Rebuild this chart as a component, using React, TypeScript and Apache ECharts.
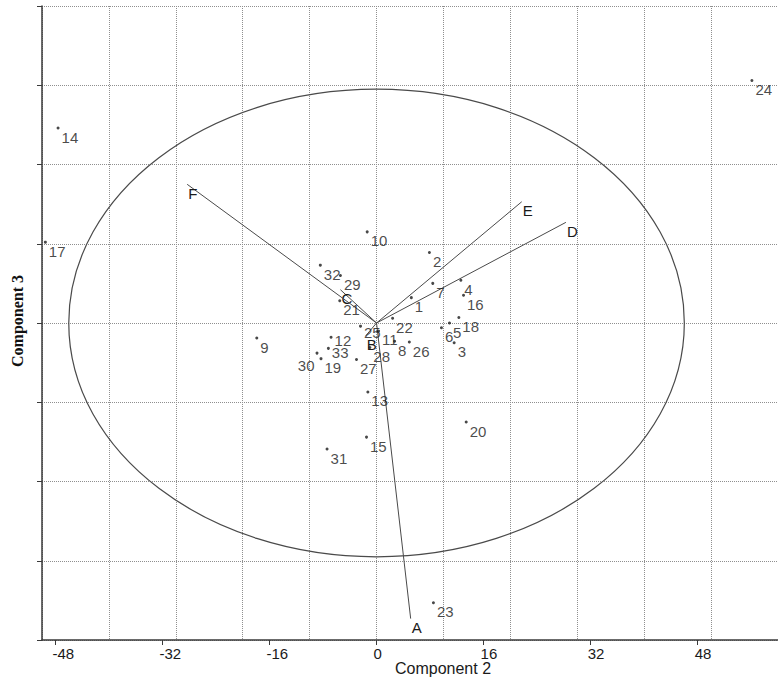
import React, { useEffect, useRef } from 'react';
import * as echarts from 'echarts';

// ---- data ----
const pointNames = ['1','2','3','4','5','6','7','8','9','10','11','12','13','14','15','16','17','18','19','20','21','22','23','24','25','26','27','28','29','30','31','32','33'];
const pointX = [5.2, 7.9, 11.6, 12.6, 10.9, 9.7, 8.4, 2.7, -17.9, -1.4, 0.3, -6.8, -1.3, -47.6, -1.5, 13.0, -49.5, 12.3, -8.3, 13.4, -5.5, 2.4, 8.5, 56.1, -2.4, 4.9, -3.0, -1.0, -5.4, -8.9, -7.4, -8.4, -7.2];
const pointY = [3.2, 8.9, -2.5, 5.4, 0.0, -0.6, 5.0, -2.3, -1.9, 11.5, -1.0, -1.8, -8.7, 24.6, -14.4, 3.5, 10.2, 0.7, -4.5, -12.5, 2.8, 0.6, -35.3, 30.6, -0.4, -2.4, -4.6, -3.1, 6.0, -3.8, -15.9, 7.3, -3.2];

const vectorNames = ['A', 'B', 'C', 'D', 'E', 'F'];
const vectorX = [5.1, -1.6, -5.4, 28.3, 21.7, -28.3];
const vectorY = [-37.3, -1.6, 4.2, 12.7, 15.3, 17.5];

const xTickLabels = [-48, -32, -16, 0, 16, 32, 48];
const ellipseRadiusX = 46;
const ellipseRadiusY = 29.5;

// ---- label tweaks (style only) ----
const labelTweaks: Record<string, any> = {
  '30': { position: 'left', distance: 1, offset: [0, 12] },
  '12': { offset: [0, 3] },
  '33': { offset: [0, 4] },
  '25': { offset: [0, 6] },
};

const SANS = '"Liberation Sans", Arial, Helvetica, sans-serif';
const SERIF = '"Liberation Serif", "Times New Roman", serif';

export default function App() {
  const ref = useRef<HTMLDivElement>(null);
  useEffect(() => {
    if (!ref.current) return;
    const chart = echarts.init(ref.current, null, { renderer: 'svg' });
    const scatterData = pointNames.map((n, i) => {
      const d: any = { name: n, value: [pointX[i], pointY[i]] };
      if (labelTweaks[n]) d.label = labelTweaks[n];
      return d;
    });
    const vectorData = vectorNames.map((n, i) => [vectorX[i], vectorY[i]]);
    const option: any = {
      animation: false,
      backgroundColor: '#ffffff',
      grid: { left: 42, right: 0, top: 6, bottom: 37, containLabel: false },
      xAxis: [
        {
          type: 'value', min: -50, max: 60, interval: 10, position: 'bottom',
          axisLine: { show: false }, axisTick: { show: false }, axisLabel: { show: false },
          splitLine: { show: true, lineStyle: { type: 'dotted', color: '#8f8f8f', width: 1 } },
        },
        {
          type: 'value', min: -50, max: 60, position: 'bottom',
          axisLine: { show: true, onZero: false, lineStyle: { color: '#3a3a3a', width: 1.5 } },
          axisTick: { show: true, customValues: xTickLabels, length: 5, lineStyle: { color: '#3a3a3a' } },
          axisLabel: {
            show: true, customValues: xTickLabels, align: 'left', padding: [0, 0, 0, -3],
            margin: 6, fontSize: 15, color: '#1a1a1a', fontFamily: SANS,
          },
          splitLine: { show: false },
        },
      ],
      yAxis: {
        type: 'value', min: -40, max: 40, interval: 10,
        axisLine: { show: true, onZero: false, lineStyle: { color: '#3a3a3a', width: 1.5 } },
        axisTick: { show: true, length: 5, lineStyle: { color: '#3a3a3a' } },
        axisLabel: { show: false },
        splitLine: { show: true, lineStyle: { type: 'dotted', color: '#8f8f8f', width: 1 } },
      },
      graphic: [
        {
          type: 'text', x: 443, y: 668,
          style: { text: 'Component 2', fontSize: 16, fontFamily: SANS, fill: '#1a1a1a', align: 'center', verticalAlign: 'middle' },
        },
        {
          type: 'text', x: 17, y: 321, rotation: Math.PI / 2,
          style: { text: 'Component 3', fontSize: 16, fontWeight: 'bold', fontFamily: SERIF, fill: '#111', align: 'center', verticalAlign: 'middle' },
        },
      ],
      series: [
        {
          type: 'custom',
          xAxisIndex: 0,
          silent: true,
          clip: false,
          data: [[0, 0]],
          renderItem: (params: any, api: any) => {
            const c = api.coord([api.value(0), api.value(1)]);
            const s = api.size([ellipseRadiusX, ellipseRadiusY]);
            return {
              type: 'ellipse',
              shape: { cx: c[0], cy: c[1], rx: s[0], ry: s[1] },
              style: { fill: 'none', stroke: '#4a4a4a', lineWidth: 1.2 },
            };
          },
        },
        {
          type: 'custom',
          xAxisIndex: 0,
          silent: true,
          clip: false,
          data: vectorData,
          renderItem: (params: any, api: any) => {
            const o = api.coord([0, 0]);
            const e = api.coord([api.value(0), api.value(1)]);
            return {
              type: 'group',
              children: [
                { type: 'line', shape: { x1: o[0], y1: o[1], x2: e[0], y2: e[1] }, style: { stroke: '#4a4a4a', lineWidth: 1 } },
                {
                  type: 'text', x: e[0] + 1, y: e[1] + 9,
                  style: { text: vectorNames[params.dataIndex], fontSize: 15, fontFamily: SANS, fill: '#1a1a1a', align: 'left', verticalAlign: 'middle' },
                },
              ],
            };
          },
        },
        {
          type: 'scatter',
          xAxisIndex: 0,
          symbol: 'circle',
          symbolSize: 3,
          itemStyle: { color: '#1a1a1a' },
          label: {
            show: true, formatter: '{b}', position: 'right', distance: 2, offset: [0, 9],
            fontSize: 15, fontFamily: SANS, color: '#1a1a1a',
          },
          data: scatterData,
        },
      ],
    };
    chart.setOption(option);
    return () => chart.dispose();
  }, []);
  return (
    <div
      ref={ref}
      style={{ position: 'fixed', left: 0, top: 0, width: 778, height: 677, background: '#fff' }}
    />
  );
}
